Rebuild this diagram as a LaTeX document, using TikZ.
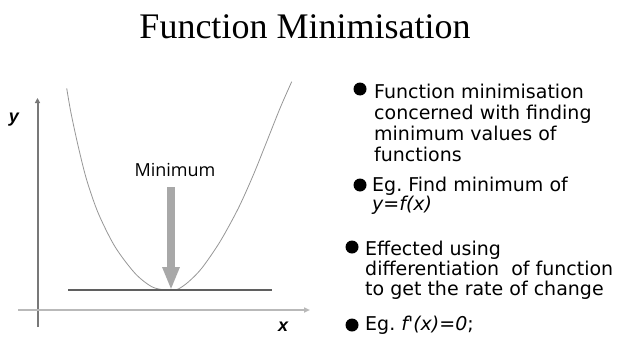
\documentclass[tikz,border=0pt]{standalone}
\usepackage{fontspec}
\setmainfont{Liberation Serif}
\newfontfamily\bulletfont{DejaVu Sans}
\newfontfamily\labfont{Open Sans}
\newfontfamily\axfont{Liberation Sans}
\usetikzlibrary{arrows.meta}
\frenchspacing
\definecolor{axisgray}{RGB}{120,120,120}
\definecolor{xaxisgray}{RGB}{185,185,185}
\definecolor{curvegray}{RGB}{150,150,150}
\definecolor{tangentgray}{RGB}{95,95,95}
\definecolor{arrowgray}{RGB}{168,168,168}
\begin{document}
\begin{tikzpicture}[x=1pt,y=-1pt,
  btext/.style={anchor=base west,inner sep=0pt,font=\bulletfont\fontsize{19}{21}\selectfont},
  bdot/.style={circle,fill=black,inner sep=0pt,minimum width=13pt,minimum height=12.5pt},
  axlabel/.style={inner sep=0pt,font=\axfont\bfseries\itshape\fontsize{18}{20}\selectfont}]
\useasboundingbox (0,0) rectangle (620,337);
% title
\node[anchor=base,inner sep=0pt,font=\fontsize{36}{40}\selectfont] (title) at (305,38) {Function Minimisation};
% axes
\coordinate (ybot) at (37.5,327);
\coordinate (ytop) at (37.5,98);
\coordinate (xleft) at (18,310);
\coordinate (xright) at (310,310);
\draw[axisgray,line width=2pt,-{Triangle[length=5pt,width=5pt]}] (ybot) -- (ytop);
\draw[xaxisgray,line width=1.5pt,-{Triangle[length=6pt,width=5pt]}] (xleft) -- (xright);
\node[axlabel] (ylab) at (14,120) {y};
\node[axlabel] (xlab) at (283,327) {x};
% curve
\draw[curvegray,line width=0.8pt] plot[smooth,tension=0.5] coordinates
  {(66.7,88.3) (71,113) (78.3,146.7) (86.7,180) (98.3,213.3) (115,246.7) (135,273.3) (151.7,286.7) (165,290) (171,290.3) (178.3,289) (188.3,282) (201.7,268.3) (220,241.7) (238.3,208.3) (253.3,175) (266.7,141.7) (280,108.3) (291.7,81.7)};
% tangent line
\coordinate (tl) at (68,290);
\coordinate (tr) at (272,290);
\draw[tangentgray,line width=2.6pt] (tl) -- (tr);
% minimum arrow
\node[inner sep=0pt,font=\labfont\fontsize{18}{20}\selectfont] (minlab) at (175,170) {Minimum};
\coordinate (atop) at (171,187);
\coordinate (amin) at (171,290);
\draw[arrowgray,line width=8.3pt,-{Triangle[length=23pt,width=16pt]}] (atop) -- (amin);
% bullets
\node[bdot] (d1) at (360,89) {};
\node[btext] (b1a) at (374,98) {Function minimisation};
\node[btext] (b1b) at (374,119) {concerned with finding};
\node[btext] (b1c) at (374,140) {minimum values of};
\node[btext] (b1d) at (374,161) {functions};
\node[bdot] (d2) at (360,185) {};
\node[btext] (b2a) at (372,191) {Eg. Find minimum of};
\node[btext] (b2b) at (372,210) {\itshape y=f(x)};
\node[bdot] (d3) at (352,247) {};
\node[btext] (b3a) at (365,255.5) {Effected using};
\node[btext] (b3b) at (365,275.5) {differentiation\ \ of function};
\node[btext] (b3c) at (365,295.5) {to get the rate of change};
\node[bdot] (d4) at (352,325) {};
\node[btext] (b4a) at (365,330) {Eg. {\itshape f'(x)=0};};
\end{tikzpicture}
\end{document}
